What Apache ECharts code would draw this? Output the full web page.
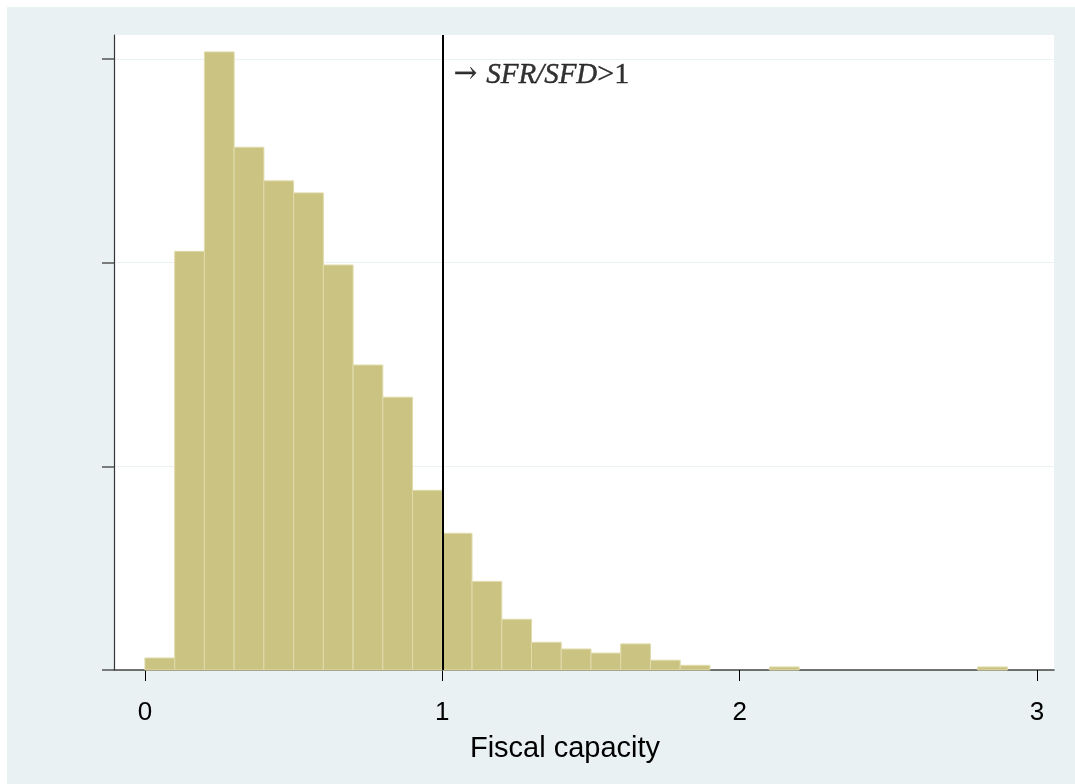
<!DOCTYPE html>
<html>
<head>
<meta charset="utf-8">
<script src="https://cdn.jsdelivr.net/npm/echarts@6/dist/echarts.min.js"></script>
<style>
  html, body { margin: 0; padding: 0; background: #ffffff; }
  #chart { position: absolute; left: 7px; top: 7px; width: 1068px; height: 777px; }
</style>
</head>
<body>
<div id="chart"></div>
<script>
// Histogram of fiscal capacity (density), bin width 0.1
const binStarts = [0.0, 0.1, 0.2, 0.3, 0.4, 0.5, 0.6, 0.7, 0.8, 0.9,
                   1.0, 1.1, 1.2, 1.3, 1.4, 1.5, 1.6, 1.7, 1.8, 1.9,
                   2.0, 2.1, 2.2, 2.3, 2.4, 2.5, 2.6, 2.7, 2.8];
const densities = [0.059, 2.055, 3.034, 2.566, 2.401, 2.342, 1.988, 1.497, 1.339, 0.882,
                   0.671, 0.435, 0.249, 0.136, 0.103, 0.083, 0.128, 0.048, 0.023, 0.0,
                   0.0, 0.015, 0.0, 0.0, 0.0, 0.0, 0.0, 0.0, 0.015];
const binWidth = 0.1;
const xTicks = [0, 1, 2, 3];
const yTicks = [0, 1, 2, 3];
const thresholdX = 1;
const annotationY = 2.92;

const histData = [];
binStarts.forEach((s, i) => {
  if (densities[i] > 0) histData.push([s, s + binWidth, densities[i]]);
});

const chart = echarts.init(document.getElementById('chart'));
chart.setOption({
  backgroundColor: '#e9f1f3',
  animation: false,
  grid: {
    left: 107, right: 21, top: 28, bottom: 114,
    show: true, backgroundColor: '#ffffff', borderWidth: 0
  },
  xAxis: {
    type: 'value',
    min: -0.104, max: 3.057,
    name: 'Fiscal capacity',
    nameLocation: 'middle',
    nameGap: 64,
    nameTextStyle: { fontFamily: 'Liberation Sans, Arial, sans-serif', fontSize: 29, color: '#000', padding: [0, 38, 0, 0] },
    axisLine: { show: true, onZero: false, lineStyle: { color: '#444', width: 1.5 } },
    axisTick: { show: true, customValues: xTicks, length: 11, lineStyle: { color: '#000', width: 1 } },
    axisLabel: { customValues: xTicks, margin: 30, fontFamily: 'Liberation Sans, Arial, sans-serif', fontSize: 26, color: '#000' },
    splitLine: { show: false }
  },
  yAxis: {
    type: 'value',
    min: 0, max: 3.117, interval: 1,
    axisLine: { show: true, onZero: false, lineStyle: { color: '#333', width: 1.2 } },
    axisTick: { show: true, customValues: yTicks, length: 12, lineStyle: { color: '#555', width: 1.5 } },
    axisLabel: { show: false },
    splitLine: { show: true, lineStyle: { color: '#eaf2f3', width: 1 } }
  },
  series: [
    {
      type: 'custom',
      data: histData,
      renderItem: function (params, api) {
        const p0 = api.coord([api.value(0), api.value(2)]);
        const p1 = api.coord([api.value(1), 0]);
        return {
          type: 'rect',
          shape: { x: p0[0], y: p0[1], width: p1[0] - p0[0], height: p1[1] - p0[1] },
          style: { fill: '#cbc382', stroke: '#e0dbab', lineWidth: 1 }
        };
      },
      encode: { x: [0, 1], y: 2 }
    },
    {
      type: 'scatter',
      data: [[thresholdX, annotationY]],
      symbolSize: 1,
      itemStyle: { color: 'rgba(0,0,0,0)' },
      z: 5,
      label: {
        show: true,
        position: 'right',
        distance: 11,
        color: '#000',
        fontSize: 29,
        formatter: '{a|→ }{i|SFR/SFD}{b|>1}',
        rich: {
          a: { fontFamily: 'DejaVu Serif, serif', fontSize: 28, color: '#000', textBorderColor: '#000', textBorderWidth: 0.4 },
          b: { fontFamily: 'Liberation Serif, DejaVu Serif, serif', fontSize: 30, color: '#000', textBorderColor: '#000', textBorderWidth: 0.4 },
          i: { fontFamily: 'Liberation Serif, DejaVu Serif, serif', fontStyle: 'italic', fontSize: 29, color: '#000', textBorderColor: '#000', textBorderWidth: 0.4 }
        }
      },
      markLine: {
        silent: true, symbol: 'none', label: { show: false },
        lineStyle: { color: '#000', width: 2, type: 'solid' },
        data: [{ xAxis: thresholdX }]
      }
    }
  ]
});
</script>
</body>
</html>
